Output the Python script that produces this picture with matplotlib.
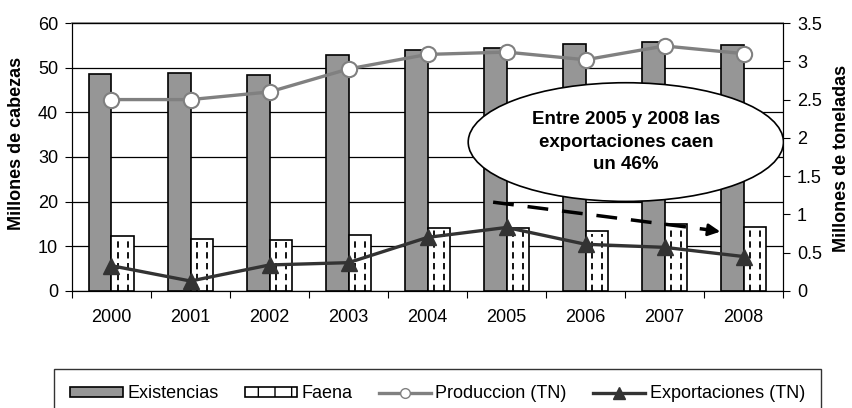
"""
Existencias / faena / produccion / exportaciones, 2000-2008
"""
import numpy as np
import matplotlib
matplotlib.use("Agg")
import matplotlib.pyplot as plt
from matplotlib.patches import Ellipse, Patch
from matplotlib.lines import Line2D

plt.rcParams['font.family'] = ['Liberation Sans', 'DejaVu Sans']

years = ['2000', '2001', '2002', '2003', '2004', '2005', '2006', '2007', '2008']
existencias = [48.6, 48.8, 48.4, 52.8, 53.9, 54.3, 55.4, 55.8, 55.1]   # millones de cabezas
faena = [12.3, 11.6, 11.5, 12.5, 14.2, 14.2, 13.4, 14.9, 14.4]         # millones de cabezas
produccion = [2.5, 2.5, 2.6, 2.9, 3.09, 3.12, 3.02, 3.2, 3.1]          # millones de toneladas
exportaciones = [0.33, 0.13, 0.34, 0.37, 0.7, 0.83, 0.61, 0.57, 0.45]  # millones de toneladas

x = np.arange(len(years))
w = 0.285
FS = 13

fig = plt.figure(figsize=(8.53, 4.08), dpi=100)
ax = fig.add_axes([0.0844, 0.2868, 0.8336, 0.6568])
ax2 = ax.twinx()

# bars
ax.bar(x - w / 2, existencias, w, color='#969696', edgecolor='black', linewidth=1.2, zorder=3)
ax.bar(x + w / 2, faena, w, color='white', edgecolor='black', linewidth=1.2, zorder=3)
# dashed texture inside the faena bars
for off in (0.28, 0.72):
    ax.vlines(x + off * w, 0, np.array(faena) - 0.6, colors='black', linewidth=1.3,
              linestyles=(0, (3.5, 2.5)), zorder=4)

ax.set_ylim(0, 60)
ax.set_yticks(np.arange(0, 61, 10))
ax.set_xlim(-0.5, len(years) - 0.5)
ax.set_xticks(np.arange(-0.5, len(years), 1))
ax.set_xticklabels([])
ax.set_xticks(x, minor=True)
ax.set_xticklabels(years, minor=True)
ax.tick_params(axis='x', which='minor', length=0, pad=13, labelsize=FS)
ax.tick_params(axis='x', which='major', length=5, direction='out')
ax.tick_params(axis='y', length=5, labelsize=FS, pad=5)
ax.yaxis.grid(True, color='black', linewidth=0.9, zorder=0)
ax.set_axisbelow(True)
ax.spines['top'].set_color('#808080')
ax.spines['top'].set_linewidth(1.2)
ax.set_ylabel('Millones de cabezas', fontsize=FS, fontweight='bold')
ax.yaxis.set_label_coords(-0.066, 0.552)

# lines
ax2.plot(x, produccion, color='#808080', linewidth=2.4, marker='o', markersize=11,
         markerfacecolor='white', markeredgecolor='#808080', markeredgewidth=1.5, zorder=5)
ax2.plot(x, exportaciones, color='#333333', linewidth=2.4, marker='^', markersize=11,
         markerfacecolor='#333333', markeredgecolor='#333333', zorder=5)
ax2.set_ylim(0, 3.5)
ax2.set_yticks(np.arange(0, 3.51, 0.5))
ax2.set_yticklabels(['0', '0.5', '1', '1.5', '2', '2.5', '3', '3.5'])
ax2.tick_params(axis='y', length=5, labelsize=FS, pad=5)
ax2.set_ylabel('Millones de toneladas', fontsize=FS, fontweight='bold')
ax2.yaxis.set_label_coords(1.0703, 0.496)

# dashed trend arrow
ax2.plot([4.83, 7.55], [1.16, 0.80], color='black', linewidth=2.5, dashes=(6, 4), zorder=6)
ax2.annotate('', xy=(7.74, 0.77), xytext=(7.5, 0.805),
             arrowprops=dict(arrowstyle='-|>', color='black', lw=2, mutation_scale=18),
             zorder=6)

# call-out bubble
ell = Ellipse((6.51, 1.945), 3.99, 1.55, facecolor='white', edgecolor='black',
              linewidth=1.2, zorder=7)
ax2.add_patch(ell)
ax2.text(6.51, 1.945, 'Entre 2005 y 2008 las\nexportaciones caen\nun 46%', ha='center',
         va='center', fontsize=13.5, fontweight='bold', linespacing=1.4, zorder=8)

# legend
handles = [
    Patch(facecolor='#969696', edgecolor='black', linewidth=1.2),
    Patch(facecolor='white', edgecolor='black', hatch='|', linewidth=1.2),
    Line2D([0], [0], color='#808080', lw=2.4, marker='o', markersize=7,
           markerfacecolor='white', markeredgecolor='#808080'),
    Line2D([0], [0], color='#333333', lw=2.4, marker='^', markersize=8,
           markerfacecolor='#333333', markeredgecolor='#333333'),
]
labels = ['Existencias', 'Faena', 'Produccion (TN)', 'Exportaciones (TN)']
leg = fig.legend(handles, labels, loc='upper left', bbox_to_anchor=(0.0633, 0.0956),
                 borderaxespad=0, ncol=4, fontsize=FS, frameon=True, fancybox=False,
                 edgecolor='black', handlelength=2.9, handleheight=0.45,
                 handletextpad=0.25, borderpad=0.9, columnspacing=1.45)
leg.get_frame().set_linewidth(1.0)

fig.savefig('out.png', dpi=100)
